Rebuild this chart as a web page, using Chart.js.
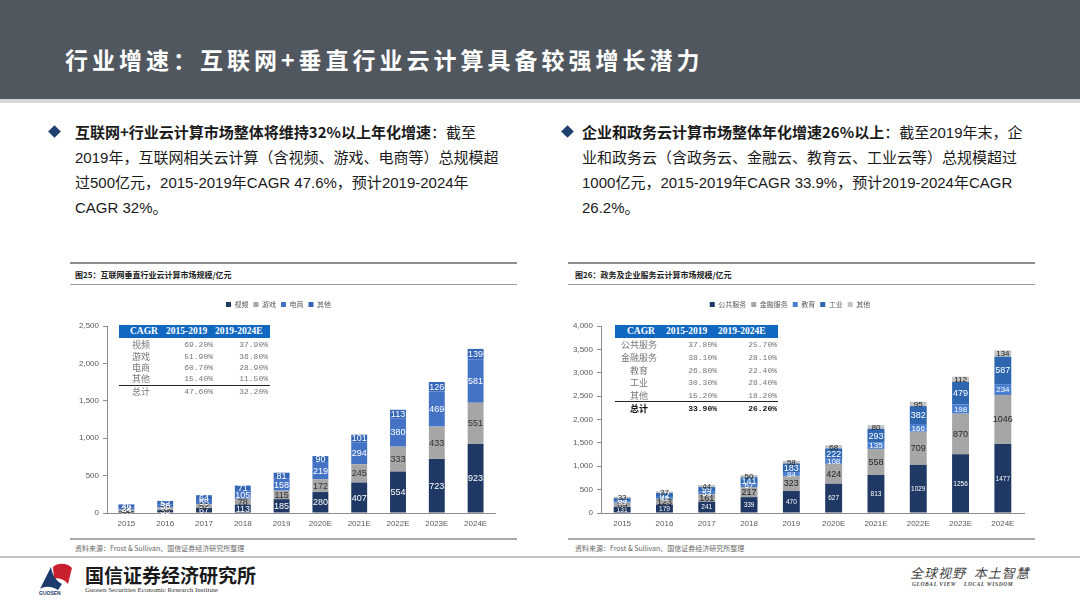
<!DOCTYPE html>
<html>
<head>
<meta charset="utf-8">
<script src="https://cdn.jsdelivr.net/npm/chart.js@4.4.1/dist/chart.umd.min.js"></script>
<style>
  body { margin:0; width:1080px; height:608px; position:relative; overflow:hidden; background:#fff;
         font-family:"Liberation Sans","Noto Sans CJK SC",sans-serif; color:#1a1a1a; }
  .abs { position:absolute; }
  .header { left:0; top:0; width:1080px; height:99px; background:#51575f; }
  .strip { left:0; top:99px; width:1080px; height:4px; background:#d6d6d6; }
  .title { left:65px; top:42px; color:#fff; font:700 23px "Noto Sans CJK SC"; letter-spacing:4px; white-space:nowrap; }
  .diamond { width:9px; height:9px; background:#1f3f6e; transform:rotate(45deg); }
  .para { font-size:15px; line-height:25px; white-space:nowrap; font-family:"Liberation Sans","Noto Sans CJK SC"; }
  .para b { font-family:"Noto Sans CJK SC"; font-weight:700; }
  .para .n { font-family:"Liberation Sans"; }
  .rule { background:#8f8f8f; }
  .ptitle { font:700 8px "Noto Sans CJK SC"; color:#222; white-space:nowrap; }
  .src { font:7px "Noto Sans CJK SC"; color:#666; white-space:nowrap; }
  .thead { background:#1068c0; color:#fff; font:700 9.5px "Liberation Serif"; white-space:nowrap; }
  .cell { font:8px "Liberation Mono"; color:#777; white-space:nowrap; transform:translateY(-50%); }
  .lab { font:9px "Noto Sans CJK SC"; color:#777; white-space:nowrap; transform:translate(-50%,-50%); }
  .bold { color:#111; font-weight:700; }
  canvas { position:absolute; }
</style>
</head>
<body>
<div class="abs header"></div>
<div class="abs strip"></div>
<div class="abs title">行业增速：互联网+垂直行业云计算具备较强增长潜力</div>

<div class="abs diamond" style="left:50px;top:127px"></div>
<div class="abs para" style="left:75px;top:119px">
<b>互联网+行业云计算市场整体将维持32%以上年化增速</b>：截至<br>
<span class="n">2019</span>年，互联网相关云计算（含视频、游戏、电商等）总规模超<br>
过<span class="n">500</span>亿元，<span class="n">2015-2019</span>年<span class="n">CAGR 47.6%</span>，预计<span class="n">2019-2024</span>年<br>
<span class="n">CAGR 32%</span>。
</div>

<div class="abs diamond" style="left:563px;top:127px"></div>
<div class="abs para" style="left:582px;top:119px">
<b>企业和政务云计算市场整体年化增速26%以上</b>：截至<span class="n">2019</span>年末，企<br>
业和政务云（含政务云、金融云、教育云、工业云等）总规模超过<br>
<span class="n">1000</span>亿元，<span class="n">2015-2019</span>年<span class="n">CAGR 33.9%</span>，预计<span class="n">2019-2024</span>年<span class="n">CAGR</span><br>
<span class="n">26.2%</span>。
</div>

<!-- left panel frame -->
<div class="abs rule" style="left:70px;top:262px;width:447px;height:2px"></div>
<div class="abs ptitle" style="left:75px;top:269px">图25：互联网垂直行业云计算市场规模/亿元</div>
<div class="abs rule" style="left:70px;top:284px;width:447px;height:1px;background:#9a9a9a"></div>
<div class="abs rule" style="left:70px;top:538px;width:447px;height:2px;background:#a8a8a8"></div>
<div class="abs src" style="left:75px;top:543px">资料来源：Frost &amp; Sullivan、国信证券经济研究所整理</div>

<!-- right panel frame -->
<div class="abs rule" style="left:568px;top:262px;width:467px;height:2px"></div>
<div class="abs ptitle" style="left:575px;top:269px">图26：政务及企业服务云计算市场规模/亿元</div>
<div class="abs rule" style="left:568px;top:284px;width:467px;height:1px;background:#9a9a9a"></div>
<div class="abs rule" style="left:568px;top:538px;width:467px;height:2px;background:#a8a8a8"></div>
<div class="abs src" style="left:575px;top:543px">资料来源：Frost &amp; Sullivan、国信证券经济研究所整理</div>

<canvas id="netChart" width="448" height="239" style="left:62px;top:296px"></canvas>
<canvas id="govChart" width="478" height="239" style="left:556px;top:296px"></canvas>

<div id="netTable"></div>
<div id="govTable"></div>

<!-- footer -->
<div class="abs" style="left:0;top:556px;width:1080px;height:2px;background:#c4c4c4"></div>
<svg class="abs" style="left:38px;top:562px" width="36" height="30" viewBox="0 0 36 30">
  <path d="M15 5 C20 0 30 1 34 6 L30 22 C26 17 20 15 16 17 Z" fill="#c8202f"/>
  <path d="M2 27 L13 5 C14 12 17 18 24 22 L20 28 C13 24 7 24 2 27 Z" fill="#1d3a6e"/>
</svg>
<div class="abs" style="left:39px;top:590px;font:700 5px 'Liberation Sans';color:#1d3a6e">GUOSEN</div>
<div class="abs" style="left:85px;top:564px;font:700 19px 'Noto Sans CJK SC';color:#1a1a1a;white-space:nowrap;line-height:22px">国信证券经济研究所</div>
<div class="abs" style="left:85px;top:586px;font:7px 'Liberation Serif';color:#333;white-space:nowrap">Guosen Securities Economic Research Institute</div>
<div class="abs" style="left:910px;top:563px;font:italic 13px 'Noto Sans CJK SC';color:#444;white-space:nowrap;letter-spacing:1px">全球视野&nbsp;&nbsp;本土智慧</div>
<div class="abs" style="left:912px;top:581px;font:italic 700 5.5px 'Liberation Serif';color:#444;white-space:nowrap;letter-spacing:0.6px">GLOBAL VIEW&nbsp;&nbsp;&nbsp;&nbsp;LOCAL WISDOM</div>

<script>
// categories
const years = ['2015', '2016', '2017', '2018', '2019', '2020E', '2021E', '2022E', '2023E', '2024E'];

// 图25 互联网垂直行业云计算
const netNames = ['视频', '游戏', '电商', '其他'];
const netVideo = [23, 39, 67, 113, 185, 280, 407, 554, 723, 923];
const netGame = [22, 33, 52, 78, 115, 172, 245, 333, 433, 551];
const netEcom = [24, 38, 55, 105, 158, 219, 294, 380, 469, 581];
const netOther = [46, 52, 64, 71, 81, 90, 101, 113, 126, 139];
const netCagr1519 = ['69.20%', '51.90%', '60.70%', '15.40%', '47.60%'];
const netCagr1924 = ['37.90%', '36.80%', '28.90%', '11.50%', '32.20%'];

// 图26 政务及企业服务云计算
const govNames = ['公共服务', '金融服务', '教育', '工业', '其他'];
const govPublic = [131, 179, 241, 339, 470, 627, 813, 1029, 1256, 1477];
const govFinance = [89, 123, 161, 217, 323, 424, 558, 709, 870, 1046];
const govEdu = [33, 42, 53, 67, 84, 108, 135, 166, 198, 234];
const govIndustry = [63, 82, 99, 141, 183, 222, 293, 382, 479, 587];
const govOther = [33, 37, 44, 50, 58, 68, 80, 95, 112, 134];
const govCagr1519 = ['37.80%', '38.10%', '26.80%', '30.30%', '15.20%', '33.90%'];
const govCagr1924 = ['25.70%', '28.10%', '22.40%', '28.40%', '18.20%', '26.20%'];

const yTicksNet = 2500;
const yTicksGov = 4000;

Chart.defaults.font.family = '"Liberation Sans", Arial, sans-serif';

// value labels in the middle of every stacked segment
const segLabels = {
  id: 'segLabels',
  afterDatasetsDraw(chart) {
    const ctx = chart.ctx;
    ctx.save();
    ctx.textAlign = 'center';
    ctx.textBaseline = 'middle';
    chart.data.datasets.forEach((ds, i) => {
      const meta = chart.getDatasetMeta(i);
      ctx.fillStyle = ds.labelColor;
      ctx.font = ds.labelFont;
      meta.data.forEach((bar, j) => {
        ctx.fillText(ds.data[j], bar.x, (bar.y + bar.base) / 2 + 0.5);
      });
    });
    ctx.restore();
  }
};

// extra room under the legend
const legendGap = {
  id: 'legendGap',
  beforeInit(chart) {
    const fit = chart.legend.fit;
    chart.legend.fit = function () { fit.call(this); this.height += 8; };
  }
};

function ds(label, data, color, labelColor, labelFont) {
  return { label, data, backgroundColor: color, borderWidth: 0, labelColor, labelFont };
}

function makeChart(id, datasets, yMax, barPct, padRight) {
  return new Chart(document.getElementById(id), {
    type: 'bar',
    data: { labels: years, datasets },
    options: {
      responsive: false,
      animation: false,
      layout: { padding: { right: padRight } },
      datasets: { bar: { barPercentage: barPct, categoryPercentage: 1 } },
      plugins: {
        legend: {
          position: 'top',
          labels: { font: { size: 7, family: 'Noto Sans CJK SC' }, color: '#595959', boxWidth: 5, boxHeight: 5, padding: 5 }
        },
        tooltip: { enabled: false }
      },
      scales: {
        x: {
          stacked: true,
          grid: { display: false, drawTicks: false },
          border: { color: '#8c8c8c' },
          ticks: { font: { size: 8 }, color: '#595959', padding: 6 },
          afterFit: s => { s.height = 22; }
        },
        y: {
          stacked: true, min: 0, max: yMax,
          ticks: { stepSize: 500, font: { size: 8 }, color: '#595959', padding: 4,
                   callback: v => v.toLocaleString('en-US') },
          grid: { drawOnChartArea: false, tickLength: 4, color: '#8c8c8c' },
          border: { color: '#8c8c8c' },
          afterFit: s => { s.width = 45; }
        }
      }
    },
    plugins: [legendGap, segLabels]
  });
}

makeChart('netChart', [
  ds(netNames[0], netVideo, '#203864', '#ffffff', '9px "Liberation Sans"'),
  ds(netNames[1], netGame, '#a6a6a6', '#333333', '9px "Liberation Sans"'),
  ds(netNames[2], netEcom, '#4472c4', '#ffffff', '9px "Liberation Sans"'),
  ds(netNames[3], netOther, '#3566b8', '#ffffff', '9px "Liberation Sans"')
], yTicksNet, 0.41, 15);

makeChart('govChart', [
  ds(govNames[0], govPublic, '#203864', '#ffffff', '6.5px "Liberation Sans"'),
  ds(govNames[1], govFinance, '#a6a6a6', '#262626', '9px "Liberation Sans"'),
  ds(govNames[2], govEdu, '#4a7fd0', '#ffffff', '8px "Liberation Sans"'),
  ds(govNames[3], govIndustry, '#2e67b0', '#ffffff', '9px "Liberation Sans"'),
  ds(govNames[4], govOther, '#c4c4c4', '#262626', '8px "Liberation Sans"')
], yTicksGov, 0.4, 10);

// CAGR tables drawn as text over the charts
function buildTable(el, o) {
  let h = '';
  h += `<div class="abs thead" style="left:${o.x0}px;top:${o.top}px;width:${o.x1 - o.x0}px;height:13px"></div>`;
  h += `<div class="abs thead" style="left:${o.hx[0]}px;top:${o.top + 1}px;background:none">CAGR</div>`;
  h += `<div class="abs thead" style="left:${o.hx[1]}px;top:${o.top + 1}px;background:none">2015-2019</div>`;
  h += `<div class="abs thead" style="left:${o.hx[2]}px;top:${o.top + 1}px;background:none">2019-2024E</div>`;
  o.names.forEach((n, i) => {
    const y = o.rows[i];
    const b = i === o.names.length - 1 && o.boldTotal ? ' bold' : '';
    h += `<div class="abs lab${b}" style="left:${o.labX}px;top:${y}px">${n}</div>`;
    h += `<div class="abs cell${b}" style="right:${1080 - o.c1}px;top:${y}px">${o.v1[i]}</div>`;
    h += `<div class="abs cell${b}" style="right:${1080 - o.c2}px;top:${y}px">${o.v2[i]}</div>`;
  });
  h += `<div class="abs" style="left:${o.x0}px;top:${o.lineY}px;width:${o.x1 - o.x0}px;height:1px;background:#222"></div>`;
  el.innerHTML = h;
}

buildTable(document.getElementById('netTable'), {
  x0: 119, x1: 270, top: 325, hx: [130, 166, 215],
  names: [...netNames, '总计'], rows: [344, 355.7, 366.7, 377.7, 391], lineY: 385,
  labX: 141, c1: 213, c2: 268, v1: netCagr1519, v2: netCagr1924, boldTotal: false
});

buildTable(document.getElementById('govTable'), {
  x0: 615, x1: 778, top: 325, hx: [627, 666, 718],
  names: [...govNames, '总计'], rows: [344, 357, 369.5, 382, 394.5, 407.5], lineY: 401,
  labX: 639, c1: 717, c2: 777, v1: govCagr1519, v2: govCagr1924, boldTotal: true
});
</script>
</body>
</html>
